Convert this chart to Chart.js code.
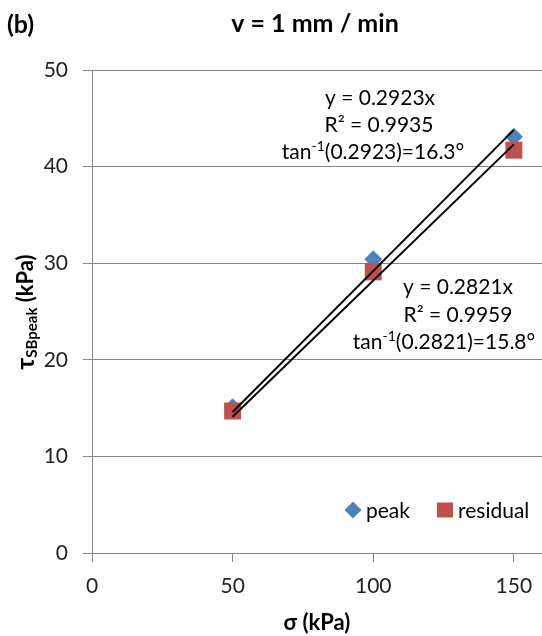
<!DOCTYPE html>
<html>
<head>
<meta charset="utf-8">
<script src="https://cdn.jsdelivr.net/npm/chart.js@4/dist/chart.umd.min.js"></script>
<style>
    html, body { margin: 0; padding: 0; background: #fff; }
</style>
</head>
<body>
<canvas id="chart" width="542" height="636"></canvas>
<script>
// data
const stressLevels = [50, 100, 150];
const peakValues = [15.1, 30.4, 43.1];
const residualValues = [14.7, 29.1, 41.7];
const trendX = [50, 150];
const peakTrend = [14.6, 43.8];
const residualTrend = [14.1, 42.3];
const xTickValues = [0, 50, 100, 150];
const yTickValues = [0, 10, 20, 30, 40, 50];

const FONT = 'Lato, "Open Sans", sans-serif';
const GRID = '#868686';
const BLUE = '#4F81BD';
const RED = '#C0504D';

function pairs(xs, ys) {
    return xs.map((x, i) => ({x: x, y: ys[i]}));
}

// draws a run of text pieces; each piece may be shifted up/down and smaller
function drawRuns(ctx, runs, cx, cy) {
    let total = 0;
    runs.forEach(r => {
        ctx.font = r.font;
        r.w = ctx.measureText(r.text).width;
        total += r.w;
    });
    let x = cx - total / 2;
    runs.forEach(r => {
        ctx.font = r.font;
        ctx.fillText(r.text, x, cy + (r.dy || 0));
        x += r.w;
    });
}

const textPlugin = {
    id: 'texts',
    afterDraw(chart) {
        const ctx = chart.ctx;
        ctx.save();
        ctx.fillStyle = '#000';
        ctx.textAlign = 'left';
        ctx.textBaseline = 'middle';

        // titles
        ctx.font = 'bold 25px ' + FONT;
        ctx.fillText('(b)', 7, 25);
        drawRuns(ctx, [{text: 'v = 1 mm / min', font: 'bold 25px ' + FONT}], 315, 24);
        drawRuns(ctx, [{text: 'σ (kPa)', font: 'bold 22px ' + FONT}], 317, 623);

        // y axis title with subscript
        ctx.save();
        ctx.translate(26, 312);
        ctx.rotate(-Math.PI / 2);
        drawRuns(ctx, [
            {text: 'τ', font: 'bold 25px ' + FONT},
            {text: 'SBpeak', font: 'bold 15px ' + FONT, dy: 6},
            {text: ' (kPa)', font: 'bold 22px ' + FONT}
        ], 0, 0);
        ctx.restore();

        // trend line equations
        const f = '21px ' + FONT;
        const s = '14px ' + FONT;
        drawRuns(ctx, [{text: 'y = 0.2923x', font: f}], 380, 98);
        drawRuns(ctx, [{text: 'R² = 0.9935', font: f}], 379, 125);
        drawRuns(ctx, [{text: 'tan', font: f}, {text: '-1', font: s, dy: -6}, {text: '(0.2923)=16.3°', font: f}], 373, 152);
        drawRuns(ctx, [{text: 'y = 0.2821x', font: f}], 458, 287);
        drawRuns(ctx, [{text: 'R² = 0.9959', font: f}], 458, 315);
        drawRuns(ctx, [{text: 'tan', font: f}, {text: '-1', font: s, dy: -6}, {text: '(0.2821)=15.8°', font: f}], 444, 342);

        // legend
        const ly = 510;
        ctx.fillStyle = BLUE;
        ctx.beginPath();
        ctx.moveTo(353 - 8.5, ly);
        ctx.lineTo(353, ly - 8.5);
        ctx.lineTo(353 + 8.5, ly);
        ctx.lineTo(353, ly + 8.5);
        ctx.closePath();
        ctx.fill();
        ctx.fillStyle = RED;
        ctx.fillRect(437, ly - 7.5, 16, 15);
        ctx.fillStyle = '#000';
        ctx.font = '21px ' + FONT;
        ctx.fillText('peak', 366, ly + 1);
        ctx.fillText('residual', 458, ly + 1);
        ctx.restore();
    }
};

new Chart(document.getElementById('chart').getContext('2d'), {
    type: 'scatter',
    data: {
        datasets: [
            {
                label: 'trend peak',
                type: 'line',
                data: pairs(trendX, peakTrend),
                borderColor: '#000',
                borderWidth: 2,
                pointRadius: 0,
                fill: false,
                order: 0
            },
            {
                label: 'trend residual',
                type: 'line',
                data: pairs(trendX, residualTrend),
                borderColor: '#000',
                borderWidth: 2,
                pointRadius: 0,
                fill: false,
                order: 0
            },
            {
                label: 'residual',
                data: pairs(stressLevels, residualValues),
                pointStyle: 'rect',
                pointRadius: 12,
                backgroundColor: RED,
                borderWidth: 0,
                order: 1
            },
            {
                label: 'peak',
                data: pairs(stressLevels, peakValues),
                pointStyle: 'rectRot',
                pointRadius: 9,
                backgroundColor: BLUE,
                borderWidth: 0,
                order: 2
            }
        ]
    },
    options: {
        responsive: false,
        animation: false,
        layout: { autoPadding: false, padding: { top: 70, right: 0, left: 0, bottom: 0 } },
        plugins: {
            legend: { display: false },
            tooltip: { enabled: false }
        },
        scales: {
            x: {
                type: 'linear',
                min: 0,
                max: 160,
                afterBuildTicks: scale => { scale.ticks = xTickValues.map(v => ({value: v})); },
                afterFit: scale => { scale.height = 83; scale.paddingRight = 0; scale.paddingLeft = 0; },
                grid: { drawOnChartArea: false, color: GRID, tickLength: 9, tickWidth: 1 },
                border: { color: GRID, width: 1 },
                ticks: { color: '#222', font: { family: FONT, size: 21 }, padding: 12 }
            },
            y: {
                min: 0,
                max: 50,
                afterBuildTicks: scale => { scale.ticks = yTickValues.map(v => ({value: v})); },
                afterFit: scale => { scale.width = 92; scale.paddingTop = 0; scale.paddingBottom = 0; },
                grid: { color: GRID, tickLength: 9, lineWidth: 1 },
                border: { color: GRID, width: 1 },
                ticks: { color: '#222', font: { family: FONT, size: 21 }, padding: 15 }
            }
        }
    },
    plugins: [textPlugin]
});
</script>
</body>
</html>
